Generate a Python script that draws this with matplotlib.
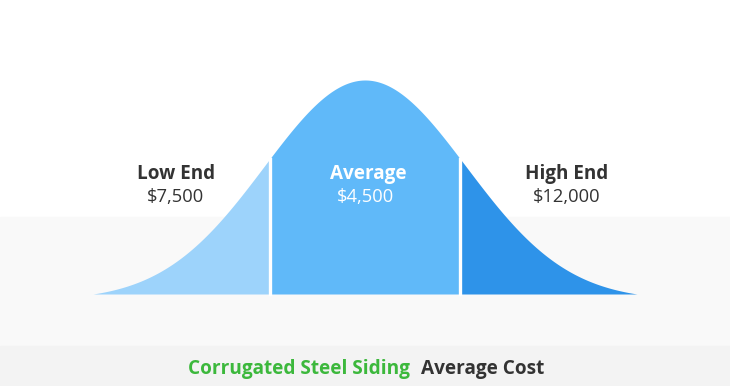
import numpy as np
import matplotlib.pyplot as plt
from matplotlib.patches import Rectangle

# cost ranges shown under the bell curve
labels = ['Low End', 'Average', 'High End']
prices = ['$7,500', '$4,500', '$12,000']
colors = ['#9dd3fb', '#60b9f9', '#2e93e9']
# segment borders (pixels from the centre of the curve)
edges = [-272, -95, 95, 272]
title_a = 'Corrugated Steel Siding'
title_b = 'Average Cost'

W, H = 730, 386
fig = plt.figure(figsize=(W / 100, H / 100), dpi=100)
plt.rcParams['font.family'] = ['Open Sans', 'DejaVu Sans']

def px(x, y):
    # pixel (from top-left) -> figure fraction
    return x / W, 1 - y / H

# background bands
fig.add_artist(Rectangle((0, 0), 1, 1, transform=fig.transFigure, color='white', zorder=0))
fig.add_artist(Rectangle((0, 0), 1, 1 - 217 / H, transform=fig.transFigure, color='#f9f9f9', zorder=0))
fig.add_artist(Rectangle((0, 0), 1, 1 - 346 / H, transform=fig.transFigure, color='#f3f3f3', zorder=0))

ax = fig.add_axes([0, 0, 1, 1])
ax.set_facecolor('none')
hy = 214.0  # pixels of peak height
ax.set_xlim(-365, W - 365)
ax.set_ylim(-(H - 294) / hy, 294 / hy)
ax.axis('off')

def bell(d, s=101.0, end=272.0):
    # normal curve shifted down so it meets the baseline at the ends
    g0 = np.exp(-end ** 2 / (2 * s ** 2))
    return (np.exp(-d ** 2 / (2 * s ** 2)) - g0) / (1 - g0)

for i in range(3):
    z = np.linspace(edges[i], edges[i + 1], 400)
    ax.fill_between(z, 0, bell(z), color=colors[i], lw=0, zorder=2)
for e in edges[1:3]:
    ax.plot([e, e], [0, bell(e)], color='white', lw=2.4, zorder=3)

# labels
lab_x = [176, 368, 567]
val_x = [175, 365, 567]
txt_colors = ['#333333', 'white', '#333333']
for i in range(3):
    fig.text(*px(lab_x[i], 179), labels[i], ha='center', va='baseline',
             fontsize=13.6, fontweight='bold', color=txt_colors[i], zorder=5)
    fig.text(*px(val_x[i], 202), prices[i], ha='center', va='baseline',
             fontsize=13.2, color=txt_colors[i], zorder=5)

fig.text(*px(410, 374), title_a, ha='right', va='baseline', fontsize=13.7,
         fontweight='bold', color='#3cb83c')
fig.text(*px(421, 374), title_b, ha='left', va='baseline', fontsize=13.7,
         fontweight='bold', color='#333333')

fig.savefig('out.png', dpi=100)
